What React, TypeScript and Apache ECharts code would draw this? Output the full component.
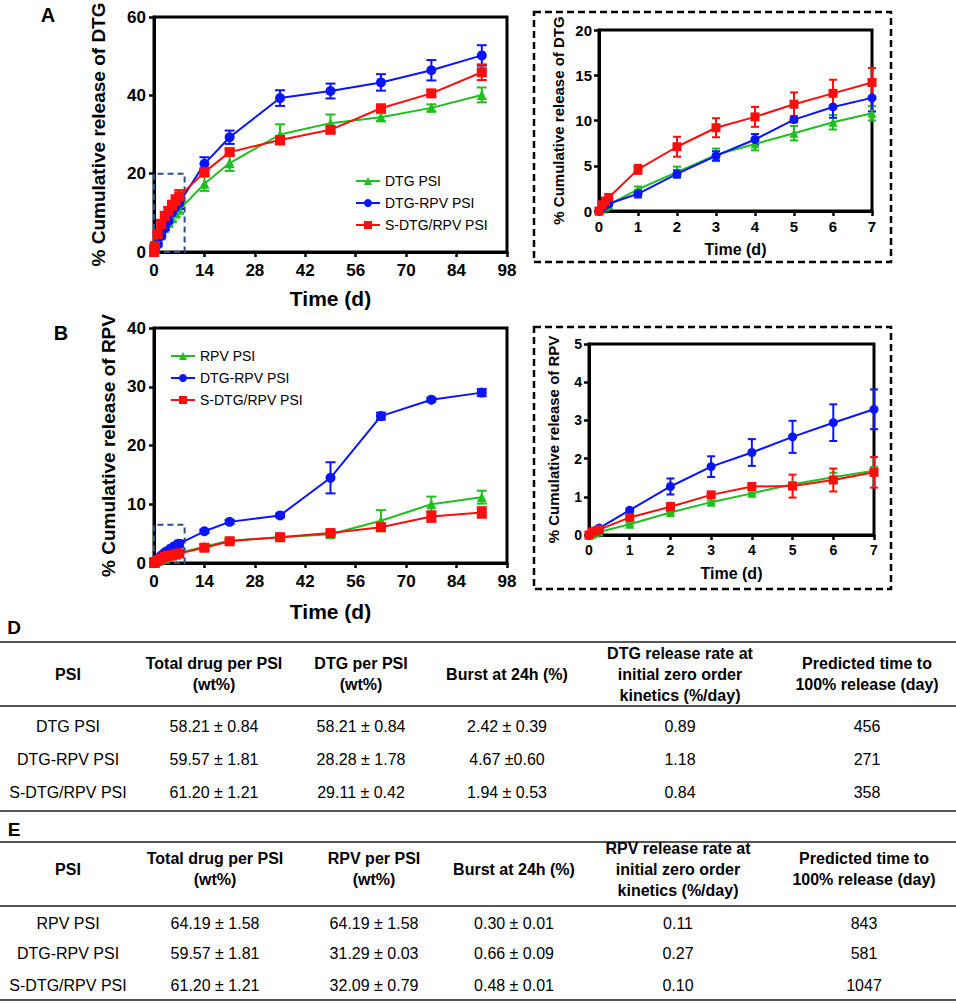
import React, { useEffect, useRef } from 'react';
import * as echarts from 'echarts';

// ---------- DATA ----------
const days = [0, 0.083, 0.167, 0.25, 1, 2, 3, 4, 5, 6, 7, 14, 21, 35, 49, 63, 77, 91];
const EARLY_N = 11; // points up to day 7 (insets)

// Panel A: % cumulative release of DTG
const dtgPsiDTG = [0, 0.2, 0.45, 0.7, 2.4, 4.3, 6.2, 7.4, 8.6, 9.8, 10.8, 17.4, 22.7, 30.0, 32.9, 34.4, 36.8, 40.1];
const dtgPsiDTG_sd = [0, 0.05, 0.1, 0.15, 0.3, 0.6, 0.7, 0.7, 0.8, 0.8, 0.8, 1.8, 2.0, 2.6, 2.2, 1.0, 0.9, 1.9];
const dtgRpvDTG = [0, 0.3, 0.6, 0.8, 1.9, 4.1, 6.1, 7.9, 10.1, 11.5, 12.5, 22.5, 29.3, 39.3, 41.1, 43.3, 46.4, 50.2];
const dtgRpvDTG_sd = [0, 0.1, 0.15, 0.2, 0.4, 0.4, 0.5, 0.6, 0.3, 1.2, 1.5, 1.7, 1.7, 2.0, 1.9, 2.1, 2.6, 2.6];
const sDtgRpvDTG = [0, 0.7, 1.1, 1.5, 4.6, 7.1, 9.2, 10.4, 11.8, 13.0, 14.2, 20.4, 25.5, 28.6, 31.2, 36.7, 40.5, 45.9];
const sDtgRpvDTG_sd = [0, 0.2, 0.2, 0.3, 0.5, 1.1, 1.05, 1.1, 1.3, 1.5, 1.6, 0.8, 0.8, 0.8, 0.8, 0.8, 0.8, 2.0];

// Panel B: % cumulative release of RPV
const rpvPsiRPV = [0, 0.02, 0.05, 0.08, 0.28, 0.59, 0.86, 1.09, 1.33, 1.51, 1.68, 2.8, 3.8, 4.4, 4.9, 7.2, 10.0, 11.2];
const rpvPsiRPV_sd = [0, 0.01, 0.01, 0.01, 0.03, 0.03, 0.04, 0.03, 0.05, 0.12, 0.1, 0.3, 0.3, 0.3, 0.3, 1.8, 1.3, 1.1];
const dtgRpvRPV = [0, 0.08, 0.12, 0.18, 0.65, 1.27, 1.79, 2.16, 2.57, 2.94, 3.29, 5.4, 7.0, 8.1, 14.5, 25.0, 27.8, 29.0];
const dtgRpvRPV_sd = [0, 0.02, 0.02, 0.03, 0.04, 0.21, 0.27, 0.35, 0.42, 0.48, 0.52, 0.3, 0.3, 0.3, 2.65, 0.6, 0.3, 0.6];
const sDtgRpvRPV = [0, 0.08, 0.1, 0.14, 0.46, 0.74, 1.05, 1.27, 1.28, 1.44, 1.64, 2.6, 3.7, 4.4, 5.1, 6.1, 7.9, 8.6];
const sDtgRpvRPV_sd = [0, 0.02, 0.02, 0.03, 0.05, 0.1, 0.07, 0.05, 0.3, 0.3, 0.4, 0.5, 0.3, 0.4, 0.3, 0.5, 0.9, 0.9];

// zoom boxes shown in the main plots [x0, y0, x1, y1]
const boxA = [0, 0, 8.5, 20];
const boxB = [0, 0, 8.5, 6.5];

// axis ranges
const mainX = { min: 0, max: 98, interval: 14 };
const insetX = { min: 0, max: 7, interval: 1 };
const yA = { min: 0, max: 60, interval: 20 };
const yAin = { min: 0, max: 20, interval: 5 };
const yB = { min: 0, max: 40, interval: 10 };
const yBin = { min: 0, max: 5, interval: 1 };

// tables
const colHeadD = ['PSI', 'Total drug per PSI\n(wt%)', 'DTG per PSI\n(wt%)', 'Burst at 24h (%)', 'DTG release rate at\ninitial zero order\nkinetics (%/day)', 'Predicted time to\n100% release (day)'];
const rowsD_psi = ['DTG PSI', 'DTG-RPV PSI', 'S-DTG/RPV PSI'];
const rowsD_total = ['58.21 ± 0.84', '59.57 ± 1.81', '61.20 ± 1.21'];
const rowsD_per = ['58.21 ± 0.84', '28.28 ± 1.78', '29.11 ± 0.42'];
const rowsD_burst = ['2.42 ± 0.39', '4.67 ±0.60', '1.94 ± 0.53'];
const rowsD_rate = ['0.89', '1.18', '0.84'];
const rowsD_pred = ['456', '271', '358'];

const colHeadE = ['PSI', 'Total drug per PSI\n(wt%)', 'RPV per PSI\n(wt%)', 'Burst at 24h (%)', 'RPV release rate at\ninitial zero order\nkinetics (%/day)', 'Predicted time to\n100% release (day)'];
const rowsE_psi = ['RPV PSI', 'DTG-RPV PSI', 'S-DTG/RPV PSI'];
const rowsE_total = ['64.19 ± 1.58', '59.57 ± 1.81', '61.20 ± 1.21'];
const rowsE_per = ['64.19 ± 1.58', '31.29 ± 0.03', '32.09 ± 0.79'];
const rowsE_burst = ['0.30 ± 0.01', '0.66 ± 0.09', '0.48 ± 0.01'];
const rowsE_rate = ['0.11', '0.27', '0.10'];
const rowsE_pred = ['843', '581', '1047'];

// ---------- STYLE ----------
const GREEN = '#1fbf1f';
const BLUE = '#0a14ff';
const RED = '#ff0d0d';
const FONT = 'Arial, "Liberation Sans", Helvetica, sans-serif';
const BOXCOLOR = '#2e4e8c';

function lineSeries(name: string, color: string, symbol: string, vals: number[], n: number, g: number, size: number, extra: any = {}) {
  return {
    type: 'line',
    name,
    xAxisIndex: g,
    yAxisIndex: g,
    data: days.slice(0, n).map((d, i) => [d, vals[i]]),
    symbol,
    symbolSize: size,
    showAllSymbol: true,
    lineStyle: { color, width: 2 },
    itemStyle: { color },
    z: 3,
    ...extra,
  };
}

function errSeries(color: string, vals: number[], sds: number[], n: number, g: number, cap: number) {
  const data: number[][] = [];
  for (let i = 0; i < n; i++) {
    if (sds[i] > 0) data.push([days[i], vals[i] - sds[i], vals[i] + sds[i]]);
  }
  return {
    type: 'custom',
    xAxisIndex: g,
    yAxisIndex: g,
    silent: true,
    z: 2,
    data,
    encode: { x: 0, y: [1, 2] },
    renderItem: (params: any, api: any) => {
      const x = api.value(0);
      const p1 = api.coord([x, api.value(1)]);
      const p2 = api.coord([x, api.value(2)]);
      const st = { stroke: color, lineWidth: 2 };
      return {
        type: 'group',
        children: [
          { type: 'line', shape: { x1: p1[0], y1: p1[1], x2: p2[0], y2: p2[1] }, style: st },
          { type: 'line', shape: { x1: p1[0] - cap, y1: p1[1], x2: p1[0] + cap, y2: p1[1] }, style: st },
          { type: 'line', shape: { x1: p2[0] - cap, y1: p2[1], x2: p2[0] + cap, y2: p2[1] }, style: st },
        ],
      };
    },
  };
}

function boxArea(b: number[]) {
  return {
    silent: true,
    itemStyle: { color: 'rgba(0,0,0,0)', borderColor: BOXCOLOR, borderWidth: 2, borderType: [6, 4] },
    data: [[{ coord: [b[0], b[1]] }, { coord: [b[2], b[3]] }]],
  };
}

function xAxisCfg(g: number, r: any, fs: number, nameFs: number, gap: number, margin: number) {
  return {
    type: 'value',
    gridIndex: g,
    ...r,
    name: 'Time (d)',
    nameLocation: 'middle',
    nameGap: gap,
    nameTextStyle: { fontFamily: FONT, fontWeight: 'bold', fontSize: nameFs, color: '#000' },
    axisLine: { show: true, onZero: false, lineStyle: { color: '#000', width: 3 } },
    axisTick: { show: true, length: 5, lineStyle: { color: '#000', width: 2.5 } },
    axisLabel: { fontFamily: FONT, fontWeight: 'bold', fontSize: fs, color: '#000', margin },
    splitLine: { show: false },
  };
}

function yAxisCfg(g: number, r: any, name: string, fs: number, nameFs: number, gap: number, margin: number) {
  return {
    type: 'value',
    gridIndex: g,
    ...r,
    name,
    nameLocation: 'middle',
    nameRotate: 90,
    nameGap: gap,
    nameTextStyle: { fontFamily: FONT, fontWeight: 'bold', fontSize: nameFs, color: '#000' },
    axisLine: { show: true, onZero: false, lineStyle: { color: '#000', width: 3 } },
    axisTick: { show: true, length: 5, lineStyle: { color: '#000', width: 2.5 } },
    axisLabel: { fontFamily: FONT, fontWeight: 'bold', fontSize: fs, color: '#000', margin },
    splitLine: { show: false },
  };
}

function tableGraphics(top: number, headBottom: number, bottom: number, headY: number, rowY: number[], cols: number[], heads: string[], rows: string[][]) {
  const els: any[] = [];
  [top, headBottom, bottom].forEach((y) => {
    els.push({ type: 'line', shape: { x1: 0, y1: y, x2: 956, y2: y }, style: { stroke: '#555', lineWidth: 2 }, silent: true });
  });
  heads.forEach((h, i) => {
    els.push({
      type: 'text', x: cols[i], y: headY,
      style: { text: h, fontFamily: FONT, fontWeight: 'bold', fontSize: 16, lineHeight: 21, fill: '#000', align: 'center', verticalAlign: 'middle' },
    });
  });
  rows.forEach((col, ci) => {
    col.forEach((t, ri) => {
      els.push({
        type: 'text', x: cols[ci], y: rowY[ri],
        style: { text: t, fontFamily: FONT, fontSize: 16, fill: '#000', align: 'center', verticalAlign: 'middle' },
      });
    });
  });
  return els;
}

export default function App() {
  const ref = useRef<HTMLDivElement>(null);
  useEffect(() => {
    if (!ref.current) return;
    const chart = echarts.init(ref.current, undefined, { renderer: 'svg' });
    const N = days.length;
    const grids = [
      { left: 154, top: 17, width: 353, height: 235 },
      { left: 599, top: 30, width: 273, height: 181 },
      { left: 154, top: 328, width: 353, height: 235 },
      { left: 589, top: 344, width: 285, height: 191 },
    ].map((g) => ({ ...g, show: true, borderColor: '#000', borderWidth: 3, backgroundColor: 'rgba(0,0,0,0)' }));

    const series: any[] = [
      // Panel A main
      errSeries(GREEN, dtgPsiDTG, dtgPsiDTG_sd, N, 0, 5),
      errSeries(BLUE, dtgRpvDTG, dtgRpvDTG_sd, N, 0, 5),
      errSeries(RED, sDtgRpvDTG, sDtgRpvDTG_sd, N, 0, 5),
      lineSeries('DTG PSI', GREEN, 'triangle', dtgPsiDTG, N, 0, 10),
      lineSeries('DTG-RPV PSI', BLUE, 'circle', dtgRpvDTG, N, 0, 10, { markArea: boxArea(boxA) }),
      lineSeries('S-DTG/RPV PSI', RED, 'rect', sDtgRpvDTG, N, 0, 10),
      // Panel A inset
      errSeries(GREEN, dtgPsiDTG, dtgPsiDTG_sd, EARLY_N, 1, 4),
      errSeries(BLUE, dtgRpvDTG, dtgRpvDTG_sd, EARLY_N, 1, 4),
      errSeries(RED, sDtgRpvDTG, sDtgRpvDTG_sd, EARLY_N, 1, 4),
      lineSeries('DTG PSI', GREEN, 'triangle', dtgPsiDTG, EARLY_N, 1, 9),
      lineSeries('DTG-RPV PSI', BLUE, 'circle', dtgRpvDTG, EARLY_N, 1, 9),
      lineSeries('S-DTG/RPV PSI', RED, 'rect', sDtgRpvDTG, EARLY_N, 1, 9),
      // Panel B main
      errSeries(GREEN, rpvPsiRPV, rpvPsiRPV_sd, N, 2, 5),
      errSeries(BLUE, dtgRpvRPV, dtgRpvRPV_sd, N, 2, 5),
      errSeries(RED, sDtgRpvRPV, sDtgRpvRPV_sd, N, 2, 5),
      lineSeries('RPV PSI', GREEN, 'triangle', rpvPsiRPV, N, 2, 10),
      lineSeries('DTG-RPV PSI', BLUE, 'circle', dtgRpvRPV, N, 2, 10, { markArea: boxArea(boxB) }),
      lineSeries('S-DTG/RPV PSI', RED, 'rect', sDtgRpvRPV, N, 2, 10),
      // Panel B inset
      errSeries(GREEN, rpvPsiRPV, rpvPsiRPV_sd, EARLY_N, 3, 4),
      errSeries(BLUE, dtgRpvRPV, dtgRpvRPV_sd, EARLY_N, 3, 4),
      errSeries(RED, sDtgRpvRPV, sDtgRpvRPV_sd, EARLY_N, 3, 4),
      lineSeries('RPV PSI', GREEN, 'triangle', rpvPsiRPV, EARLY_N, 3, 9),
      lineSeries('DTG-RPV PSI', BLUE, 'circle', dtgRpvRPV, EARLY_N, 3, 9),
      lineSeries('S-DTG/RPV PSI', RED, 'rect', sDtgRpvRPV, EARLY_N, 3, 9),
    ];

    const legendBase = {
      orient: 'vertical',
      padding: 0,
      itemWidth: 24,
      itemHeight: 10,
      itemGap: 8,
      selectedMode: false,
      textStyle: { fontFamily: FONT, fontSize: 14, color: '#000' },
    };

    const graphic: any[] = [
      { type: 'text', x: 48, y: 15, style: { text: 'A', fontFamily: FONT, fontWeight: 'bold', fontSize: 20, fill: '#000', align: 'center', verticalAlign: 'middle' } },
      { type: 'text', x: 61, y: 333, style: { text: 'B', fontFamily: FONT, fontWeight: 'bold', fontSize: 20, fill: '#000', align: 'center', verticalAlign: 'middle' } },
      { type: 'text', x: 14, y: 627, style: { text: 'D', fontFamily: FONT, fontWeight: 'bold', fontSize: 19, fill: '#000', align: 'center', verticalAlign: 'middle' } },
      { type: 'text', x: 14, y: 829, style: { text: 'E', fontFamily: FONT, fontWeight: 'bold', fontSize: 19, fill: '#000', align: 'center', verticalAlign: 'middle' } },
      { type: 'rect', shape: { x: 534, y: 12, width: 357, height: 250 }, style: { fill: 'none', stroke: '#000', lineWidth: 2.5, lineDash: [7, 4] }, silent: true },
      { type: 'rect', shape: { x: 534, y: 327, width: 357, height: 262 }, style: { fill: 'none', stroke: '#000', lineWidth: 2.5, lineDash: [7, 4] }, silent: true },
      ...tableGraphics(642, 706, 811, 674, [726, 759, 792], [68, 214, 361, 507, 680, 867], colHeadD,
        [rowsD_psi, rowsD_total, rowsD_per, rowsD_burst, rowsD_rate, rowsD_pred]),
      ...tableGraphics(842, 906, 1000, 869, [923, 953, 985], [68, 215, 374, 514, 678, 864], colHeadE,
        [rowsE_psi, rowsE_total, rowsE_per, rowsE_burst, rowsE_rate, rowsE_pred]),
    ];

    chart.setOption({
      animation: false,
      backgroundColor: '#fff',
      grid: grids,
      xAxis: [
        xAxisCfg(0, mainX, 17, 21, 36, 10),
        xAxisCfg(1, insetX, 15, 16, 30, 8),
        xAxisCfg(2, mainX, 17, 21, 38, 10),
        xAxisCfg(3, insetX, 14, 16, 30, 8),
      ],
      yAxis: [
        yAxisCfg(0, yA, '% Cumulative release of DTG', 17, 19, 46, 8),
        yAxisCfg(1, yAin, '% Cumulative release of DTG', 15, 15, 33, 7),
        yAxisCfg(2, yB, '% Cumulative release of RPV', 17, 19, 36, 8),
        yAxisCfg(3, yBin, '% Cumulative release of RPV', 14, 15, 28, 7),
      ],
      legend: [
        { ...legendBase, left: 355, top: 174, data: ['DTG PSI', 'DTG-RPV PSI', 'S-DTG/RPV PSI'] },
        { ...legendBase, left: 170, top: 349, data: ['RPV PSI', 'DTG-RPV PSI', 'S-DTG/RPV PSI'] },
      ],
      series,
      graphic,
    });
    return () => chart.dispose();
  }, []);
  return (
    <div
      ref={ref}
      style={{ position: 'fixed', left: 0, top: 0, width: 956, height: 1003, background: '#fff' }}
    />
  );
}
